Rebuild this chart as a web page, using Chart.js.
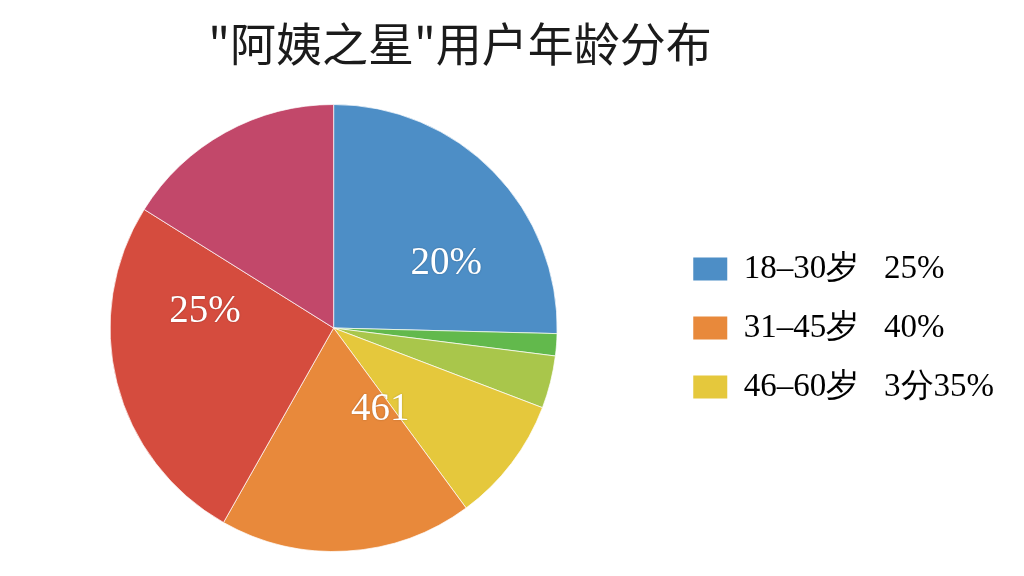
<!DOCTYPE html>
<html>
<head>
<meta charset="utf-8">
<script src="https://cdn.jsdelivr.net/npm/chart.js@4/dist/chart.umd.min.js"></script>
<style>
  html, body { margin: 0; padding: 0; background: #fff; }
  #wrap { width: 1024px; height: 576px; }
</style>
</head>
<body>
<div id="wrap"><canvas id="pieChart" width="1024" height="576"></canvas></div>
<script>
// slices, clockwise from 12 o'clock
const categories = ['18–30岁', '绿色', '黄绿', '46–60岁', '31–45岁', '红色', '玫红'];
const shares = [25.4, 1.6, 3.8, 9.1, 18.3, 25.7, 16.1];
const sliceColors = ['#4d8ec6', '#62b94c', '#a9c64b', '#e5c83c', '#e8893b', '#d54c3e', '#c2486a'];
const sliceTexts = ['20%', '', '', '', '461', '25%', ''];

// legend shows only three groups
const legendTexts = ['18–30岁   25%', '31–45岁   40%', '46–60岁   3分35%'];
const legendSlices = [0, 4, 3];

const chartTitle = '"阿姨之星"用户年龄分布';

// where each slice text sits: fraction along the arc, fraction of radius
const textAngleFrac = [0.66, 0, 0, 0, 0.10, 0.73, 0];
const textRadiusFrac = [0.58, 0, 0, 0, 0.42, 0.58, 0];

const titlePlugin = {
  id: 'topTitle',
  afterDraw(chart) {
    const ctx = chart.ctx;
    ctx.save();
    ctx.font = '46px "Noto Sans CJK SC", "Noto Sans", sans-serif';
    ctx.fillStyle = '#1b1b1b';
    ctx.textAlign = 'center';
    ctx.textBaseline = 'middle';
    ctx.fillText(chartTitle, 460, 44);
    ctx.restore();
  }
};

const sliceTextPlugin = {
  id: 'sliceText',
  afterDatasetsDraw(chart) {
    const ctx = chart.ctx;
    const arcs = chart.getDatasetMeta(0).data;
    ctx.save();
    ctx.font = '39px "Liberation Serif", "DejaVu Serif", serif';
    ctx.fillStyle = '#ffffff';
    ctx.textAlign = 'center';
    ctx.textBaseline = 'middle';
    ctx.shadowColor = 'rgba(0,0,0,0.25)';
    ctx.shadowBlur = 2;
    arcs.forEach((arc, i) => {
      if (!sliceTexts[i]) return;
      const a = arc.startAngle + (arc.endAngle - arc.startAngle) * textAngleFrac[i];
      const r = arc.outerRadius * textRadiusFrac[i];
      ctx.fillText(sliceTexts[i], arc.x + Math.cos(a) * r, arc.y + Math.sin(a) * r);
    });
    ctx.restore();
  }
};

new Chart(document.getElementById('pieChart').getContext('2d'), {
  type: 'pie',
  data: {
    labels: categories,
    datasets: [{
      data: shares,
      backgroundColor: sliceColors,
      borderColor: 'rgba(255,255,255,0.7)',
      borderWidth: 1
    }]
  },
  options: {
    responsive: false,
    animation: false,
    layout: { padding: { top: 104, bottom: 24, left: 0, right: 20 } },
    plugins: {
      title: { display: false },
      tooltip: { enabled: false },
      legend: {
        position: 'right',
        labels: {
          color: '#1e1e1e',
          font: { family: '"Liberation Serif", "DejaVu Serif", serif', size: 33 },
          boxWidth: 34,
          boxHeight: 23,
          padding: 26,
          generateLabels(chart) {
            return legendSlices.map((idx, k) => ({
              text: legendTexts[k],
              fillStyle: sliceColors[idx],
              strokeStyle: sliceColors[idx],
              lineWidth: 0,
              hidden: false,
              index: idx
            }));
          }
        }
      }
    }
  },
  plugins: [titlePlugin, sliceTextPlugin]
});
</script>
</body>
</html>
